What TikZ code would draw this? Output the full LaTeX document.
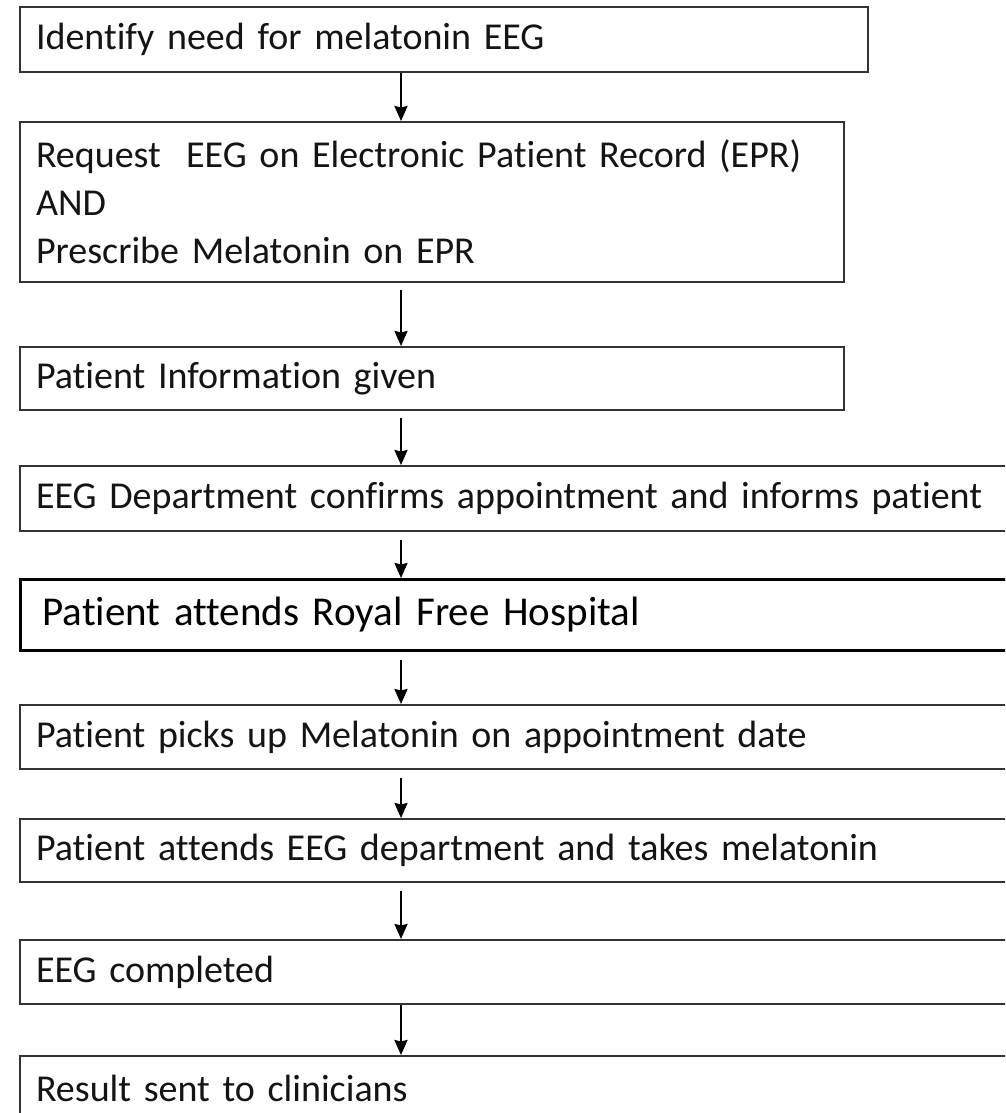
\documentclass[tikz,border=0pt]{standalone}
\usepackage{fontspec}
\setmainfont{Carlito}[Ligatures=NoCommon,WordSpace=0.8]
\usepackage{xcolor}
\usepackage{tikz}
\usetikzlibrary{arrows.meta,positioning}
\tikzstyle{stepbox} = [draw=black!80,line width=2pt,anchor=north west,align=left,inner xsep=16pt,inner ysep=0pt,text=black!92,font=\fontsize{38}{48}\selectfont]
\tikzstyle{royalbox} = [stepbox,draw=black,line width=2.8pt,inner xsep=22pt,text=black,font=\fontsize{41}{50}\selectfont]
\tikzstyle{arrow} = [line width=2.3pt,-{Stealth[length=15pt,width=13pt,inset=1.5pt]}]

\begin{document}
\begin{tikzpicture}[x=1pt,y=-1pt]
	% Page:
	% white sheet, boxes on the right run off the edge so they are clipped
	\useasboundingbox[fill=white] (0,0) rectangle (1005,1113);
	\clip (0,0) rectangle (1005,1113);
	
	% Steps:
	\node[stepbox,text width=816pt,minimum height=65pt] (identify) at (19,6) {Identify need for melatonin EEG};
	\node[stepbox,text width=792pt,minimum height=160pt] (request) at (19,121) {Request\ \ EEG on Electronic Patient Record (EPR)\\AND\\Prescribe Melatonin on EPR};
	\node[stepbox,text width=792pt,minimum height=63pt] (info) at (19,346) {Patient Information given};
	\node[stepbox,text width=988pt,minimum height=65pt] (confirm) at (19,465) {EEG Department confirms appointment and informs patient};
	\node[royalbox,text width=976pt,minimum height=71pt] (attend) at (19,578) {Patient attends Royal Free Hospital};
	\node[stepbox,text width=988pt,minimum height=64pt] (pickup) at (19,704) {Patient picks up Melatonin on appointment date};
	\node[stepbox,text width=988pt,minimum height=63pt] (takes) at (19,818) {Patient attends EEG department and takes melatonin};
	\node[stepbox,text width=988pt,minimum height=64pt] (done) at (19,939) {EEG completed};
	\node[stepbox,text width=988pt,minimum height=64pt] (result) at (19,1055) {Result sent to clinicians};
	
	% Arrows:
	% all of them sit on one vertical line
	\coordinate (spine) at (401,0);
	\draw[arrow] (identify.south -| spine) -- (request.north -| spine);
	\draw[arrow,shorten <=7pt] (request.south -| spine) -- (info.north -| spine);
	\draw[arrow,shorten <=7pt] (info.south -| spine) -- (confirm.north -| spine);
	\draw[arrow,shorten <=8pt] (confirm.south -| spine) -- (attend.north -| spine);
	\draw[arrow,shorten <=8pt] (attend.south -| spine) -- (pickup.north -| spine);
	\draw[arrow,shorten <=8pt] (pickup.south -| spine) -- (takes.north -| spine);
	\draw[arrow,shorten <=8pt] (takes.south -| spine) -- (done.north -| spine);
	\draw[arrow] (done.south -| spine) -- (result.north -| spine);
\end{tikzpicture}
\end{document}
